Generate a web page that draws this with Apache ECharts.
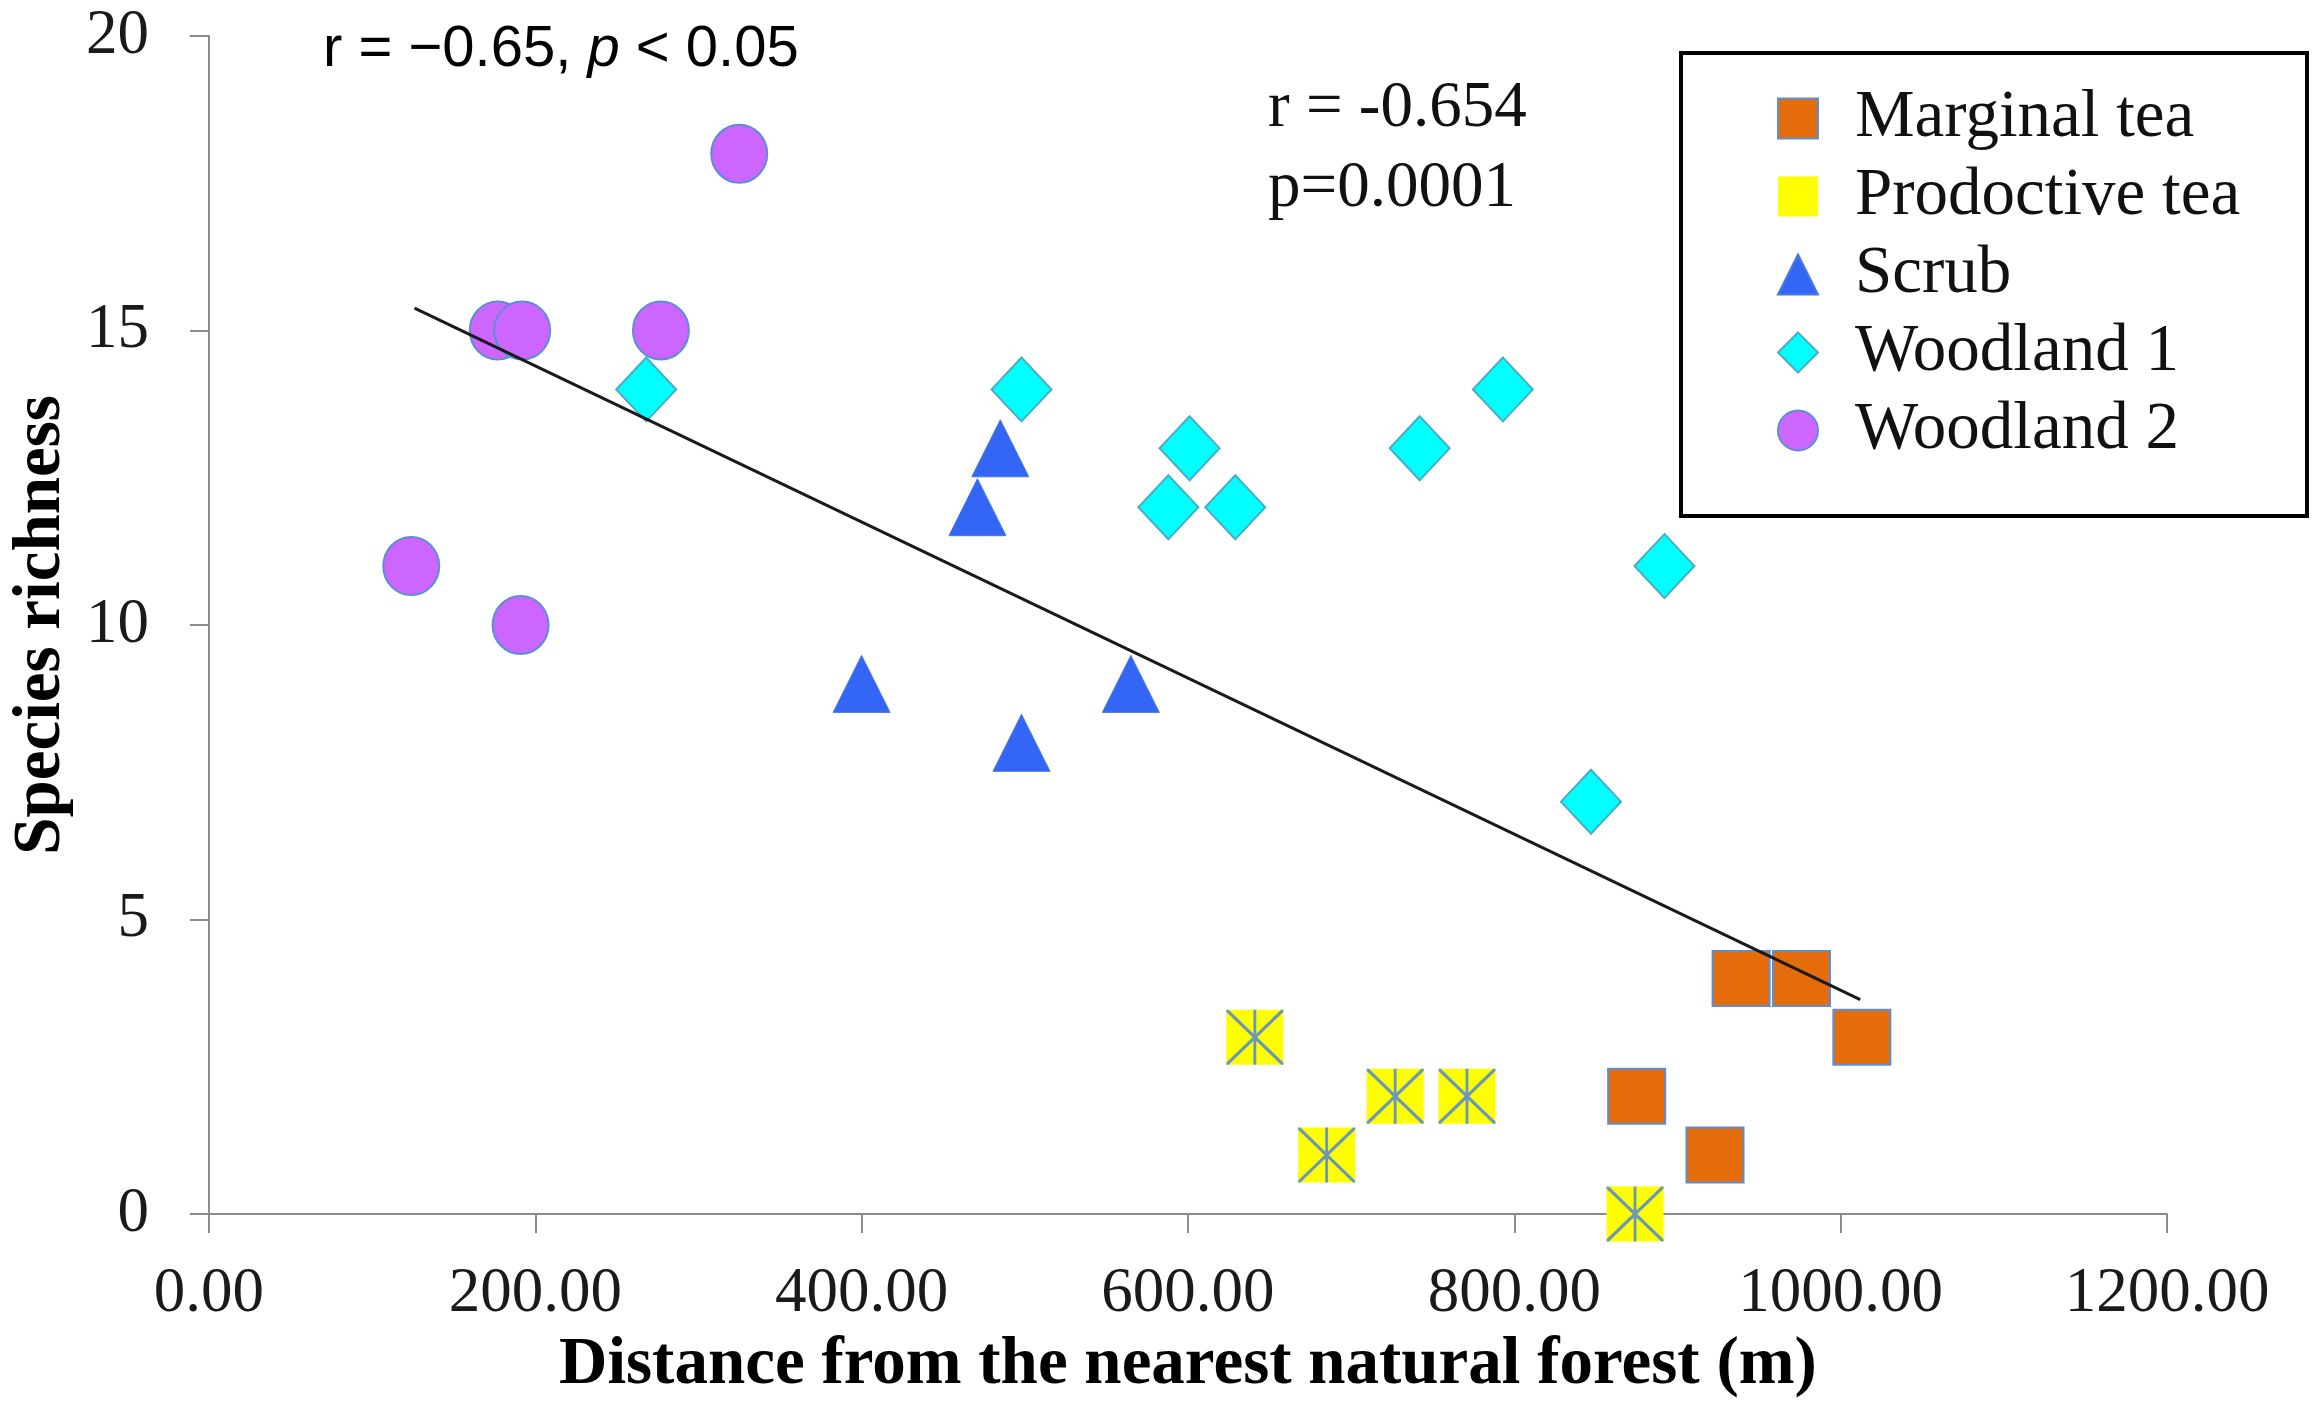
<!DOCTYPE html>
<html>
<head>
<meta charset="utf-8">
<script src="https://cdn.jsdelivr.net/npm/echarts@6/dist/echarts.min.js"></script>
<style>
  html, body { margin: 0; padding: 0; background: #fff; }
  #main { width: 2323px; height: 1413px; }
</style>
</head>
<body>
<div id="main"></div>
<script>
var myChart = echarts.init(document.getElementById("main"));

// data: [distance (m), species richness]
var marginalTea = [[939, 4], [976, 4], [1013, 3], [875, 2], [923, 1]];
var productiveTea = [[641, 3], [727, 2], [771, 2], [685, 1], [874, 0]];
var scrub = [[400, 9], [498, 8], [565, 9], [485, 13], [471, 12]];
var woodland1 = [[268, 14], [498, 14], [601, 13], [588, 12], [629, 12], [742, 13], [793, 14], [892, 11], [847, 7]];
var woodland2 = [[124, 11], [177, 15], [192, 15], [277, 15], [325, 18], [191, 10]];
var trendLine = [[126, 15.38], [1012, 3.64]];
var legendNames = ["Marginal tea", "Prodoctive tea", "Scrub", "Woodland 1", "Woodland 2"];

var serif = "Liberation Serif";
var asterisk =
  "path://M47.5,0L52.5,0L52.5,100L47.5,100Z" +
  "M0,0L4,0L100,96L100,100L96,100L0,4Z" +
  "M100,0L100,4L4,100L0,100L0,96L96,0Z";

option = {
  backgroundColor: "#fff",
  animation: false,
  grid: {
    left: 193,
    right: 156,
    top: 36,
    bottom: 199,
  },
  legend: {
    data: legendNames,
    orient: "vertical",
    left: 1772,
    top: 80,
    itemWidth: 40,
    itemHeight: 40,
    itemGap: 11,
    textStyle: {
      fontFamily: serif,
      fontSize: 67,
      lineHeight: 66,
      color: "#111",
      padding: [0, 0, 0, 32],
    },
  },
  graphic: [
    {
      type: "rect",
      shape: { x: 1681, y: 53, width: 626, height: 463 },
      style: { fill: "none", stroke: "#000", lineWidth: 4 },
      z: 10,
    },
    {
      type: "text",
      left: 323,
      top: 21,
      style: {
        text: "r = \u22120.65, {i|p} < 0.05",
        fontFamily: "Liberation Sans",
        fontSize: 58,
        fill: "#000",
        rich: {
          i: { fontFamily: "Liberation Sans", fontSize: 58, fontStyle: "italic", fill: "#000" },
        },
      },
    },
    {
      type: "text",
      left: 1268,
      top: 76,
      style: { text: "r = -0.654", fontFamily: serif, fontSize: 65, fill: "#111" },
    },
    {
      type: "text",
      left: 1268,
      top: 156,
      style: { text: "p=0.0001", fontFamily: serif, fontSize: 65, fill: "#111" },
    },
  ],
  xAxis: {
    type: "value",
    min: 0,
    max: 1200,
    interval: 200,
    name: "Distance from the nearest natural forest (m)",
    nameLocation: "middle",
    nameGap: 118,
    nameTextStyle: {
      fontFamily: serif,
      fontSize: 67,
      fontWeight: "bold",
      color: "#000",
    },
    axisLine: { lineStyle: { color: "#8c8c8c", width: 2 } },
    axisTick: { show: true, length: 19, lineStyle: { color: "#8c8c8c", width: 2 } },
    axisLabel: {
      margin: 49,
      fontFamily: serif,
      fontSize: 63,
      color: "#1a1a1a",
      formatter: function (v) {
        return v.toFixed(2);
      },
    },
    splitLine: { show: false },
  },
  yAxis: {
    type: "value",
    min: 0,
    max: 20,
    interval: 5,
    name: "Species richness",
    nameLocation: "middle",
    nameGap: 100,
    nameTextStyle: {
      fontFamily: serif,
      fontSize: 67,
      fontWeight: "bold",
      color: "#000",
    },
    axisLine: { show: true, lineStyle: { color: "#8c8c8c", width: 2 } },
    axisTick: { show: true, length: 19, lineStyle: { color: "#8c8c8c", width: 2 } },
    axisLabel: {
      margin: 60,
      fontFamily: serif,
      fontSize: 63,
      color: "#1a1a1a",
    },
    splitLine: { show: false },
  },
  series: [
    {
      name: "Marginal tea",
      type: "scatter",
      symbol: "rect",
      symbolSize: [57, 55],
      data: marginalTea,
      itemStyle: { color: "#e46c0a", borderColor: "#5b8fd4", borderWidth: 2, opacity: 1 },
    },
    {
      name: "Prodoctive tea",
      type: "scatter",
      symbol: "rect",
      symbolSize: [57, 55],
      data: productiveTea,
      itemStyle: { color: "#ffff00", borderWidth: 0, opacity: 1 },
    },
    {
      name: "Prodoctive tea",
      type: "scatter",
      symbol: asterisk,
      symbolSize: [57, 55],
      data: productiveTea,
      itemStyle: { color: "#6a98b8", opacity: 1 },
      z: 3,
    },
    {
      name: "Scrub",
      type: "scatter",
      symbol: "triangle",
      symbolSize: [57, 57],
      data: scrub,
      itemStyle: { color: "#3366f5", borderColor: "#4a78e0", borderWidth: 1, opacity: 1 },
    },
    {
      name: "Woodland 1",
      type: "scatter",
      symbol: "diamond",
      symbolSize: [60, 64],
      data: woodland1,
      itemStyle: { color: "#00ffff", borderColor: "#4bacc6", borderWidth: 2, opacity: 1 },
    },
    {
      name: "Woodland 2",
      type: "scatter",
      symbol: "circle",
      symbolSize: [56, 58],
      data: woodland2,
      itemStyle: { color: "#cc66ff", borderColor: "#5b8fd4", borderWidth: 2, opacity: 1 },
    },
    {
      type: "line",
      data: trendLine,
      showSymbol: false,
      symbol: "none",
      silent: true,
      z: 5,
      lineStyle: { color: "#1a1a1a", width: 3 },
    },
  ],
};
myChart.setOption(option);
</script>
</body>
</html>
